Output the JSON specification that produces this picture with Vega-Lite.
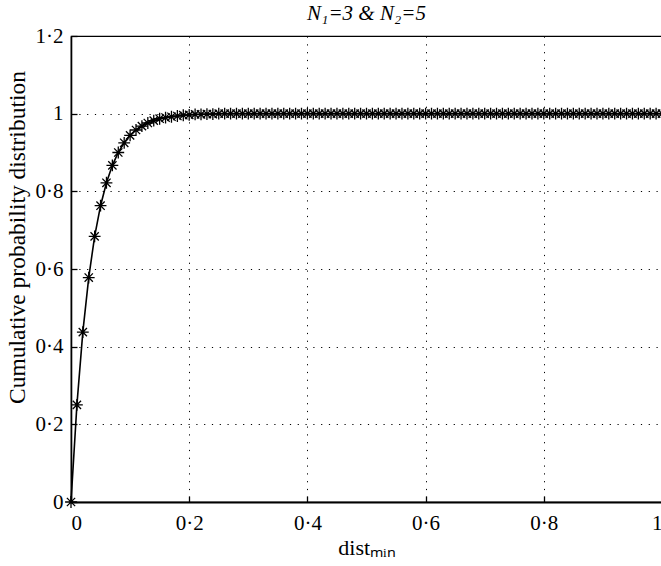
{
  "$schema": "https://vega.github.io/schema/vega-lite/v6.json",
  "autosize": {"type": "none"},
  "padding": {"left": 71, "top": 36, "right": 0, "bottom": 64},
  "width": 591,
  "height": 466,
  "background": "white",
  "title": {"text": "N₁=3 & N₂=5", "font": "Liberation Serif", "fontSize": 21, "fontWeight": "normal", "fontStyle": "italic", "color": "black", "offset": 1, "anchor": "middle"},
  "config": {
    "view": {"stroke": "black", "strokeWidth": 1.2},
    "axis": {
      "labelFont": "Liberation Serif", "labelColor": "black",
      "titleFont": "Liberation Serif", "titleFontWeight": "normal", "titleColor": "black",
      "domainColor": "black", "domainWidth": 1.6, "tickColor": "black", "tickWidth": 1.3, "tickSize": -6,
      "gridColor": "black", "gridDash": [1.2, 6.6], "gridWidth": 1, "gridOpacity": 1
    }
  },
  "data": {"values": [
    {"x": 0.00, "y": 0}, {"x": 0.01, "y": 0.25}, {"x": 0.02, "y": 0.4375}, {"x": 0.03, "y": 0.578},
    {"x": 0.04, "y": 0.684}, {"x": 0.05, "y": 0.763}, {"x": 0.06, "y": 0.822}, {"x": 0.07, "y": 0.867},
    {"x": 0.08, "y": 0.900}, {"x": 0.09, "y": 0.925}, {"x": 0.10, "y": 0.944}, {"x": 0.11, "y": 0.958},
    {"x": 0.12, "y": 0.968}, {"x": 0.13, "y": 0.976}, {"x": 0.14, "y": 0.982}, {"x": 0.15, "y": 0.987},
    {"x": 0.16, "y": 0.990}, {"x": 0.17, "y": 0.992}, {"x": 0.18, "y": 0.994}, {"x": 0.19, "y": 0.996},
    {"x": 0.20, "y": 0.997}, {"x": 0.21, "y": 0.998}, {"x": 0.22, "y": 0.998}, {"x": 0.23, "y": 0.999},
    {"x": 0.24, "y": 0.999}, {"x": 0.25, "y": 1}, {"x": 0.26, "y": 1}, {"x": 0.27, "y": 1},
    {"x": 0.28, "y": 1}, {"x": 0.29, "y": 1}, {"x": 0.30, "y": 1}, {"x": 0.31, "y": 1},
    {"x": 0.32, "y": 1}, {"x": 0.33, "y": 1}, {"x": 0.34, "y": 1}, {"x": 0.35, "y": 1},
    {"x": 0.36, "y": 1}, {"x": 0.37, "y": 1}, {"x": 0.38, "y": 1}, {"x": 0.39, "y": 1},
    {"x": 0.40, "y": 1}, {"x": 0.41, "y": 1}, {"x": 0.42, "y": 1}, {"x": 0.43, "y": 1},
    {"x": 0.44, "y": 1}, {"x": 0.45, "y": 1}, {"x": 0.46, "y": 1}, {"x": 0.47, "y": 1},
    {"x": 0.48, "y": 1}, {"x": 0.49, "y": 1}, {"x": 0.50, "y": 1}, {"x": 0.51, "y": 1},
    {"x": 0.52, "y": 1}, {"x": 0.53, "y": 1}, {"x": 0.54, "y": 1}, {"x": 0.55, "y": 1},
    {"x": 0.56, "y": 1}, {"x": 0.57, "y": 1}, {"x": 0.58, "y": 1}, {"x": 0.59, "y": 1},
    {"x": 0.60, "y": 1}, {"x": 0.61, "y": 1}, {"x": 0.62, "y": 1}, {"x": 0.63, "y": 1},
    {"x": 0.64, "y": 1}, {"x": 0.65, "y": 1}, {"x": 0.66, "y": 1}, {"x": 0.67, "y": 1},
    {"x": 0.68, "y": 1}, {"x": 0.69, "y": 1}, {"x": 0.70, "y": 1}, {"x": 0.71, "y": 1},
    {"x": 0.72, "y": 1}, {"x": 0.73, "y": 1}, {"x": 0.74, "y": 1}, {"x": 0.75, "y": 1},
    {"x": 0.76, "y": 1}, {"x": 0.77, "y": 1}, {"x": 0.78, "y": 1}, {"x": 0.79, "y": 1},
    {"x": 0.80, "y": 1}, {"x": 0.81, "y": 1}, {"x": 0.82, "y": 1}, {"x": 0.83, "y": 1},
    {"x": 0.84, "y": 1}, {"x": 0.85, "y": 1}, {"x": 0.86, "y": 1}, {"x": 0.87, "y": 1},
    {"x": 0.88, "y": 1}, {"x": 0.89, "y": 1}, {"x": 0.90, "y": 1}, {"x": 0.91, "y": 1},
    {"x": 0.92, "y": 1}, {"x": 0.93, "y": 1}, {"x": 0.94, "y": 1}, {"x": 0.95, "y": 1},
    {"x": 0.96, "y": 1}, {"x": 0.97, "y": 1}, {"x": 0.98, "y": 1}, {"x": 0.99, "y": 1},
    {"x": 1.00, "y": 1}
  ]},
  "encoding": {
    "x": {"field": "x", "type": "quantitative", "scale": {"domain": [0, 1], "nice": false},
      "axis": {"title": "distₘᵢₙ", "values": [0, 0.2, 0.4, 0.6, 0.8, 1], "labelFont": "Liberation Serif", "labelFontSize": 21, "titleFontSize": 22,
        "labelPadding": 16, "titleBaseline": "alphabetic", "titleY": 52, "domainWidth": 2,
        "labelExpr": "datum.value == 0 ? '0' : datum.value == 1 ? '1' : replace(format(datum.value, '.1f'), '.', '·')"}},
    "y": {"field": "y", "type": "quantitative", "scale": {"domain": [0, 1.2], "nice": false},
      "axis": {"title": "Cumulative probability distribution", "values": [0, 0.2, 0.4, 0.6, 0.8, 1, 1.2], "labelFont": "Liberation Serif", "labelFontSize": 21, "titleFontSize": 23.5,
        "labelPadding": 14, "titleBaseline": "alphabetic", "titleX": -47, "titleY": 201, "titleAlign": "center", "titleAngle": -90,
        "labelExpr": "datum.value == 0 ? '0' : datum.value == 1 ? '1' : replace(format(datum.value, '.1f'), '.', '·')"}}
  },
  "layer": [
    {"mark": {"type": "line", "color": "black", "strokeWidth": 1.6}},
    {"mark": {"type": "point", "shape": "M0,-1L0,1M-1,0L1,0M-0.7,-0.7L0.7,0.7M-0.7,0.7L0.7,-0.7", "size": 140, "filled": false, "stroke": "black", "strokeWidth": 1.3, "opacity": 1}}
  ]
}
